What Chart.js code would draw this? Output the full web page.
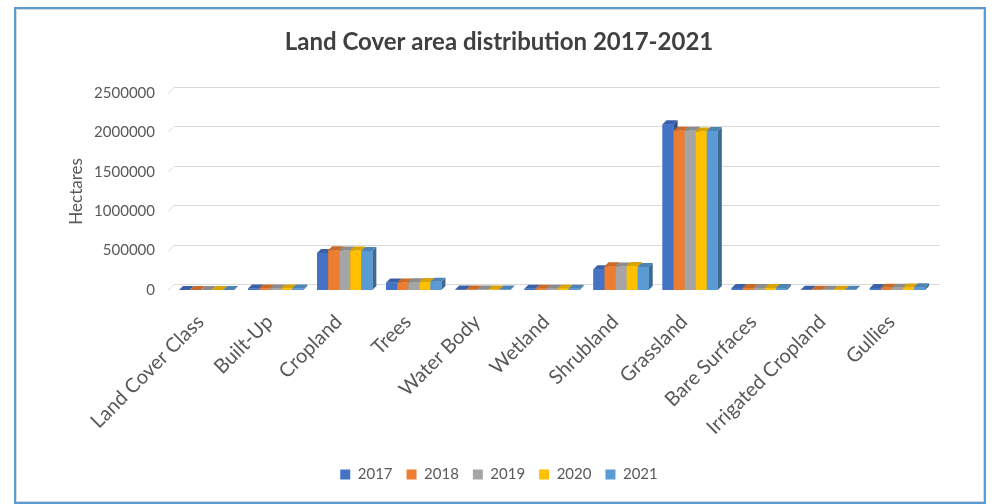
<!DOCTYPE html>
<html>
<head>
<meta charset="utf-8">
<script src="https://cdn.jsdelivr.net/npm/chart.js@4/dist/chart.umd.min.js"></script>
<style>
  body { margin: 0; background: #fff; overflow: hidden; }
  #wrap { position: relative; width: 994px; height: 504px; }
  #frame {
    position: absolute; left: 14px; top: 7px; width: 972px; height: 497px;
    box-sizing: border-box; border: 2px solid #5b9bd5;
    box-shadow: inset 0 0 0 1px #d9d9d9; pointer-events: none;
  }
</style>
</head>
<body>
<div id="wrap">
  <canvas id="landChart" width="994" height="504"></canvas>
  <div id="frame"></div>
</div>
<script>
"use strict"

// land cover classes along the x axis
let categories = ["Land Cover Class", "Built-Up", "Cropland", "Trees", "Water Body", "Wetland",
  "Shrubland", "Grassland", "Bare Surfaces", "Irrigated Cropland", "Gullies"];

let years = ["2017", "2018", "2019", "2020", "2021"];

// hectares per class, one array per year
let area2017 = [0, 18000, 470000, 95000, 6000, 15000, 262000, 2100000, 25000, 3000, 25000];
let area2018 = [0, 18000, 505000, 95000, 6000, 16000, 300000, 2020000, 25000, 4000, 28000];
let area2019 = [0, 18000, 500000, 97000, 6000, 16000, 298000, 2020000, 25000, 4000, 30000];
let area2020 = [0, 19000, 500000, 100000, 6000, 16000, 305000, 2010000, 25000, 4000, 32000];
let area2021 = [0, 19000, 495000, 105000, 6000, 16000, 292000, 2015000, 25000, 4000, 35000];

let yTicks = [0, 500000, 1000000, 1500000, 2000000, 2500000];

let colors = ["#4472c4", "#ed7d31", "#a5a5a5", "#ffc000", "#5b9bd5"];
let allAreas = [area2017, area2018, area2019, area2020, area2021];

const FONT = "Lato, 'Open Sans', sans-serif";
const GREY = "#595959";

// darken a hex colour by a factor
function shade(hex, f) {
  let n = parseInt(hex.slice(1), 16);
  let r = Math.round(((n >> 16) & 255) * f);
  let g = Math.round(((n >> 8) & 255) * f);
  let b = Math.round((n & 255) * f);
  return `rgb(${r},${g},${b})`;
}

// back wall gridlines with a short slanted floor stub
const wallGrid = {
  id: "wallGrid",
  beforeDatasetsDraw(chart) {
    const ctx = chart.ctx;
    const y = chart.scales.y;
    const area = chart.chartArea;
    const g = 6;
    ctx.save();
    ctx.strokeStyle = "#d9d9d9";
    ctx.lineWidth = 1;
    yTicks.forEach(v => {
      let py = Math.round(y.getPixelForValue(v)) + 0.5;
      ctx.beginPath();
      ctx.moveTo(area.left - 4, py);
      ctx.lineTo(area.left - 4 + g, py - g);
      ctx.lineTo(area.right + 8, py - g);
      ctx.stroke();
    });
    ctx.restore();
  }
};

// side and top faces for a simple 3-D column look
const columns3d = {
  id: "columns3d",
  afterDatasetsDraw(chart) {
    const ctx = chart.ctx;
    const d = 4;
    ctx.save();
    for (let i = 0; i < chart.data.datasets.length; i++) {
      const meta = chart.getDatasetMeta(i);
      const col = colors[i];
      meta.data.forEach(bar => {
        const p = bar.getProps(["x", "y", "base", "width"], true);
        const l = p.x - p.width / 2, r = p.x + p.width / 2;
        // right side
        ctx.fillStyle = shade(col, 0.68);
        ctx.beginPath();
        ctx.moveTo(r, p.y);
        ctx.lineTo(r + d, p.y - d);
        ctx.lineTo(r + d, p.base - d);
        ctx.lineTo(r, p.base);
        ctx.closePath();
        ctx.fill();
        // top
        ctx.fillStyle = shade(col, 0.85);
        ctx.beginPath();
        ctx.moveTo(l, p.y);
        ctx.lineTo(l + d, p.y - d);
        ctx.lineTo(r + d, p.y - d);
        ctx.lineTo(r, p.y);
        ctx.closePath();
        ctx.fill();
        // front, redrawn so the next column covers this side face
        ctx.fillStyle = col;
        ctx.fillRect(l, p.y, p.width, p.base - p.y);
      });
    }
    ctx.restore();
  }
};

let datasets = [];
for (let i = 0; i < years.length; i++) {
  datasets.push({
    label: years[i],
    data: allAreas[i],
    backgroundColor: colors[i],
    borderWidth: 0,
    categoryPercentage: 0.8,
    barPercentage: 1.0
  });
}

const ctx = document.getElementById("landChart").getContext("2d");
const landChart = new Chart(ctx, {
  type: "bar",
  data: { labels: categories, datasets: datasets },
  plugins: [wallGrid, columns3d],
  options: {
    responsive: false,
    animation: false,
    layout: { padding: { left: 66, right: 62, top: 24, bottom: 12 } },
    plugins: {
      title: {
        display: true,
        text: "Land Cover area distribution 2017-2021",
        color: "#404040",
        font: { family: FONT, size: 24, weight: "bold" },
        padding: { top: 4, bottom: 36 }
      },
      legend: {
        position: "bottom",
        labels: {
          boxWidth: 10,
          boxHeight: 10,
          color: GREY,
          padding: 14,
          font: { family: FONT, size: 15 }
        }
      },
      tooltip: { enabled: false }
    },
    scales: {
      x: {
        grid: { display: false, drawTicks: false },
        border: { display: false },
        afterFit(axis) {
          // labels may run past the plot on the left, as in the spreadsheet
          axis.paddingLeft = 0;
          axis.paddingRight = 0;
          axis.height = 163;
        },
        ticks: {
          color: GREY,
          minRotation: 45,
          maxRotation: 45,
          padding: 20,
          labelOffset: -6,
          font: { family: FONT, size: 20 }
        }
      },
      y: {
        min: 0,
        max: 2500000,
        grid: { display: false, drawTicks: false },
        border: { display: false },
        afterBuildTicks(axis) {
          axis.ticks = yTicks.map(v => ({ value: v }));
        },
        afterFit(axis) {
          axis.width = 106;
        },
        ticks: {
          color: GREY,
          padding: 17,
          font: { family: FONT, size: 15 },
          callback: v => String(v)
        },
        title: {
          display: true,
          text: "Hectares",
          color: GREY,
          padding: { top: 0, bottom: 0 },
          font: { family: FONT, size: 17 }
        }
      }
    }
  }
});
</script>
</body>
</html>
